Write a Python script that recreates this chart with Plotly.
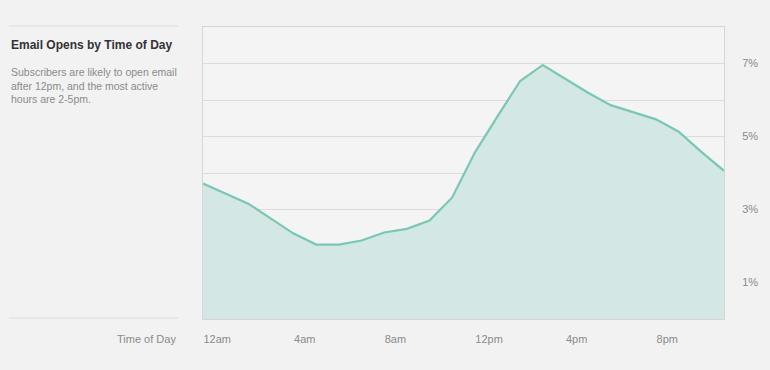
import plotly.graph_objects as go

hours = list(range(24))
opens_pct = [3.71, 3.44, 3.16, 2.75, 2.34, 2.04, 2.04, 2.15, 2.37, 2.47, 2.70, 3.33,
             4.56, 5.55, 6.52, 6.96, 6.57, 6.20, 5.86, 5.66, 5.47, 5.13, 4.58, 4.06]
x_tick_vals = [0, 4, 8, 12, 16, 20]
x_tick_text = ["12am", "4am", "8am", "12pm", "4pm", "8pm"]
y_tick_vals = [1, 2, 3, 4, 5, 6, 7]
y_tick_text = ["1%", "", "3%", "", "5%", "", "7%"]

W, H = 770, 370
L, R, T, B = 203, 43, 27, 51
pw = W - L - R
ph = H - T - B

def px(x):
    return (x - L) / pw

def py(y):
    return (H - B - y) / ph

fig = go.Figure()
fig.add_trace(go.Scatter(
    x=hours, y=opens_pct, mode="lines", fill="tozeroy",
    line=dict(color="#7ac8b4", width=2.2),
    fillcolor="#d3e7e4", hoverinfo="skip", showlegend=False,
))

font = "Liberation Sans, Arial, Helvetica, sans-serif"
fig.update_layout(
    width=W, height=H,
    margin=dict(l=L, r=R, t=T, b=B, pad=0),
    paper_bgcolor="#f2f2f2", plot_bgcolor="#f4f4f4",
    font=dict(family=font, size=11, color="#8a8a8a"),
    xaxis=dict(range=[0, 23], tickvals=x_tick_vals, ticktext=x_tick_text,
               ticklabelposition="outside right", showgrid=False, zeroline=False,
               showline=True, linecolor="#d6d6d6", linewidth=1, mirror=True,
               ticks="", ticklabelstandoff=10, tickfont=dict(size=11, color="#8a8a8a")),
    yaxis=dict(range=[0, 8], side="right", tickvals=y_tick_vals, ticktext=y_tick_text,
               showgrid=True, gridcolor="#dcdcdc", gridwidth=1, zeroline=False,
               showline=True, linecolor="#d6d6d6", linewidth=1, mirror=True,
               ticks="", ticklabelstandoff=15, tickfont=dict(size=11, color="#8a8a8a")),
)

fig.add_shape(type="line", xref="paper", yref="paper", x0=px(8), x1=px(178),
              y0=py(26), y1=py(26), line=dict(color="#dcdcdc", width=1))
fig.add_shape(type="line", xref="paper", yref="paper", x0=px(8), x1=px(178),
              y0=py(318), y1=py(318), line=dict(color="#dcdcdc", width=1))

fig.add_annotation(xref="paper", yref="paper", x=px(8), y=py(45), xanchor="left", yanchor="middle",
                   text="<b>Email Opens by Time of Day</b>", showarrow=False,
                   font=dict(family=font, size=12, color="#333333"))
fig.add_annotation(xref="paper", yref="paper", x=px(8), y=py(64), xanchor="left", yanchor="top",
                   text="Subscribers are likely to open email<br>after 12pm, and the most active<br>hours are 2-5pm.",
                   align="left", showarrow=False,
                   font=dict(family=font, size=10.5, color="#8a8a8a"))
fig.add_annotation(xref="paper", yref="paper", x=px(178), y=py(339), xanchor="right", yanchor="middle",
                   text="Time of Day", showarrow=False,
                   font=dict(family=font, size=11, color="#8a8a8a"))

fig.write_html("out.html", config={"displayModeBar": False},
               post_script="document.body.style.margin='0';document.body.style.overflow='hidden';")
